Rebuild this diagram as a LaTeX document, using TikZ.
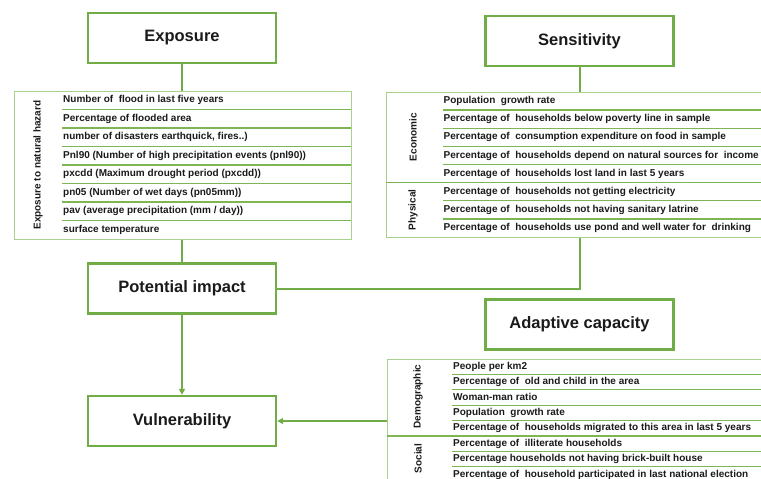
\documentclass[tikz,border=0pt]{standalone}
\usepackage{fontspec}
\setmainfont{Liberation Sans}
\usetikzlibrary{arrows.meta}

\definecolor{boxgreen}{HTML}{70AD47}
\definecolor{tablegreen}{HTML}{A9D18E}
\definecolor{rowgreen}{HTML}{7DB652}
\definecolor{inkgray}{HTML}{1A1A1A}

\tikzset{
  titlebox/.style={draw=boxgreen, line width=2.4pt, minimum width=188pt,
    minimum height=50pt, inner sep=0pt, text=inkgray,
    font=\fontsize{16.5}{18}\selectfont\bfseries},
  tablebox/.style={draw=tablegreen, line width=1pt, inner sep=0pt},
  rowline/.style={draw=rowgreen, line width=1.3pt},
  rowtext/.style={anchor=mid west, inner sep=0pt, text=inkgray,
    font=\fontsize{10}{12}\selectfont\bfseries},
  grouplabel/.style={rotate=90, inner sep=0pt, text=inkgray,
    font=\fontsize{10}{12}\selectfont\bfseries},
  link/.style={draw=boxgreen, line width=2pt},
  arrowlink/.style={link, -{Triangle[length=6pt,width=6pt]}},
}

\begin{document}
\begin{tikzpicture}[x=1pt, y=-1pt]
\useasboundingbox (0,0) rectangle (761,479);
\clip (0,0) rectangle (761,479);

% ---- main boxes ----
\node[titlebox] (exposure)    at (182,38)     {Exposure};
\node[titlebox] (sensitivity) at (579.5,41)   {Sensitivity};
\node[titlebox] (impact)      at (182,288.5)  {Potential impact};
\node[titlebox] (vuln)        at (182,421)    {Vulnerability};
\node[titlebox] (adaptive)    at (579.5,324.5){Adaptive capacity};

% ---- exposure indicators ----
\node[tablebox, minimum width=337pt, minimum height=148pt] (exptab) at (182.5,165) {};
\foreach \k in {1,...,7}
  \draw[rowline] (62,91+18.5*\k) -- (351,91+18.5*\k);
\foreach \t [count=\i] in {
  {Number of\ \ flood in last five years},
  {Percentage of flooded area},
  {number of disasters earthquick, fires..)},
  {Pnl90 (Number of high precipitation events (pnl90))},
  {pxcdd (Maximum drought period (pxcdd))},
  {pn05 (Number of wet days (pn05mm))},
  {pav (average precipitation (mm / day))},
  {surface temperature}}
  \node[rowtext] (exp\i) at (63,91+18.5*\i-9.25) {\t};
\node[grouplabel] (explabel) at (38,165) {Exposure to natural hazard};

% ---- sensitivity indicators ----
\node[tablebox, minimum width=404pt, minimum height=145pt] (senstab) at (588,164.5) {};
\foreach \k in {1,2,3,4,6,7}
  \draw[rowline] (443,92+18.125*\k) -- (790,92+18.125*\k);
\draw[rowline] (386,92+18.125*5) -- (790,92+18.125*5);
\foreach \t [count=\i] in {
  {Population\ \ growth rate},
  {Percentage of\ \ households below poverty line in sample},
  {Percentage of\ \ consumption expenditure on food in sample},
  {Percentage of\ \ households depend on natural sources for\ \ income},
  {Percentage of\ \ households lost land in last 5 years},
  {Percentage of\ \ households not getting electricity},
  {Percentage of\ \ households not having sanitary latrine},
  {Percentage of\ \ households use pond and well water for\ \ drinking}}
  \node[rowtext] (sens\i) at (443.5,92+18.125*\i-9.06) {\t};
\node[grouplabel] (economic) at (413,137.3) {Economic};
\node[grouplabel] (physical) at (413,209.8) {Physical};

% ---- adaptive capacity indicators ----
\node[tablebox, minimum width=403pt, minimum height=141pt] (adapttab) at (588.5,429.5) {};
\foreach \k in {1,2,3,4,6,7}
  \draw[rowline] (452,359+15.4*\k) -- (790,359+15.4*\k);
\draw[rowline] (387,359+15.4*5) -- (790,359+15.4*5);
\foreach \t [count=\i] in {
  {People per km2},
  {Percentage of\ \ old and child in the area},
  {Woman-man ratio},
  {Population\ \ growth rate},
  {Percentage of\ \ households migrated to this area in last 5 years},
  {Percentage of\ \ illiterate households},
  {Percentage households not having brick-built house},
  {Percentage of\ \ household participated in last national election}}
  \node[rowtext] (adapt\i) at (453,359+15.4*\i-7.7) {\t};
\node[grouplabel] (demographic) at (418,396.5) {Demographic};
\node[grouplabel] (social)      at (418,458.5) {Social};

% ---- connectors ----
\draw[link] (exposure.south) -- (exposure.south |- exptab.north);
\draw[link] (impact.north |- exptab.south) -- (impact.north);
\draw[link] (sensitivity.south) -- (sensitivity.south |- senstab.north);
\draw[link] (impact.east) -| (sensitivity.south |- senstab.south);
\draw[arrowlink] (impact.south) -- (vuln.north);
\draw[arrowlink] (vuln.east -| adapttab.west) -- (vuln.east);
\end{tikzpicture}
\end{document}
